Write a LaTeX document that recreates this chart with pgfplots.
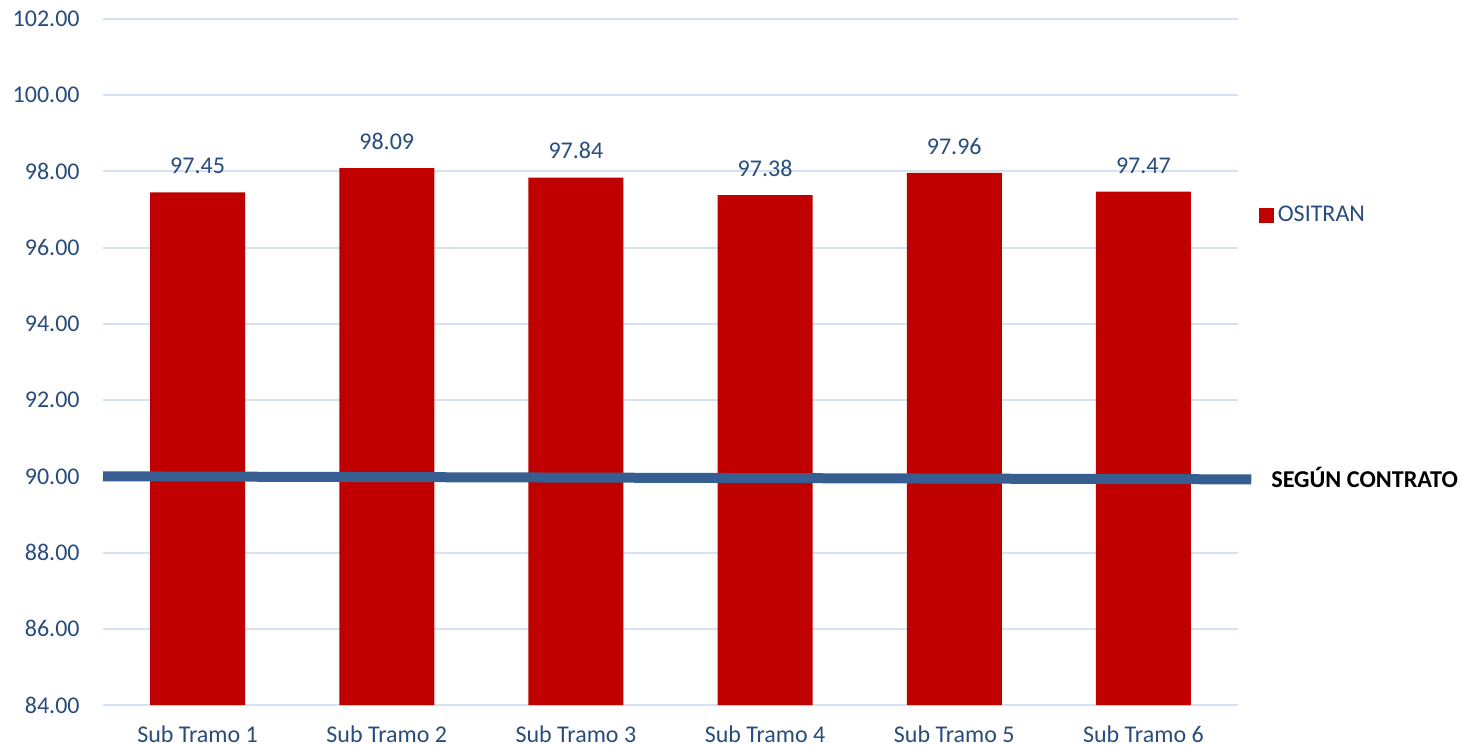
\documentclass[border=0pt]{standalone}
\usepackage{fontspec}
\setmainfont{Carlito}
\usepackage{pgfplots}
\pgfplotsset{compat=1.18}

\definecolor{barred}{RGB}{192,0,0}
\definecolor{lineblue}{RGB}{55,94,145}
\definecolor{txtblue}{RGB}{40,76,124}
\definecolor{gridblue}{RGB}{214,226,243}

\begin{document}
\begin{tikzpicture}
\useasboundingbox (0,0) rectangle (730.5pt,373pt);
\begin{axis}[
    at={(51.5pt,20.5pt)}, anchor=south west,
    scale only axis,
    width=567.5pt, height=343pt,
    xmin=-0.5, xmax=5.5,
    ymin=84, ymax=102,
    ytick={84,86,...,102},
    xtick={0,...,5},
    xticklabels={Sub Tramo 1,Sub Tramo 2,Sub Tramo 3,Sub Tramo 4,Sub Tramo 5,Sub Tramo 6},
    major tick length=0pt,
    axis line style={draw=none},
    ymajorgrids=true,
    grid style={gridblue, line width=1pt},
    /pgf/number format/assume math mode=true,
    yticklabel style={/pgf/number format/.cd, fixed, fixed zerofill, precision=2, /tikz/.cd,
        anchor=east, inner sep=0pt, xshift=-11.5pt, font=\fontsize{12}{14}\selectfont, text=txtblue},
    xticklabel style={anchor=north, inner sep=0pt, yshift=-10pt,
        font=\fontsize{12}{14}\selectfont, text=txtblue},
    clip=false,
    legend style={at={(rel axis cs:1.018,0.714)}, anchor=west, draw=none, fill=none,
        font=\fontsize{12}{14}\selectfont, text=txtblue, inner sep=0pt},
    legend cell align=left,
]
\addplot[ybar, bar width=47.5pt, fill=barred, draw=none,
    nodes near coords={\pgfmathprintnumber[fixed,fixed zerofill,precision=2]{\pgfplotspointmeta}},
    every node near coord/.append style={anchor=south, inner sep=0pt, yshift=9pt,
        font=\fontsize{12}{14}\selectfont, text=txtblue},
    legend image code/.code={\fill[barred] (0pt,-3.7pt) rectangle (7.5pt,3.7pt);},
    ] coordinates {
    (0,97.45) (1,98.09) (2,97.84) (3,97.38) (4,97.96) (5,97.47)
};
\addlegendentry{OSITRAN}
\addplot[lineblue, line width=5pt, mark=none, forget plot] coordinates {
    (-0.5,90.00) (5.57,89.92)
};
\node[anchor=west, inner sep=0pt, font=\fontsize{12.1}{14}\selectfont\bfseries]
    at (axis cs:5.674,89.98) {SEGÚN CONTRATO};
\end{axis}
\end{tikzpicture}
\end{document}
